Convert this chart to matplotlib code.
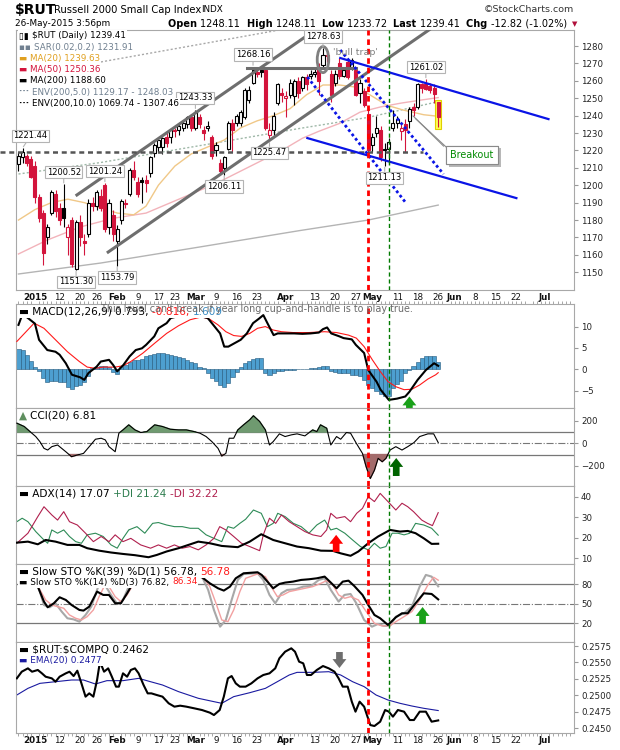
import matplotlib
matplotlib.use('Agg')
import numpy as np
import matplotlib.pyplot as plt
from matplotlib.patches import Rectangle, Ellipse
import matplotlib.patheffects as pe

plt.rcParams['font.family'] = ['DejaVu Sans']
plt.rcParams['font.size'] = 6.2

W, H = 620, 750
RED = '#d3143c'

# ---------------- data (trading day index, 0 = 2 Jan 2015) ----------------
days = np.arange(-4, 99)
opens = [1212, 1216, 1217, 1215, 1211, 1193, 1184, 1170, 1184, 1195, 1187, 1187, 1170, 1180, 1152,
         1179, 1168, 1172, 1190, 1188, 1194, 1200, 1176, 1183, 1168, 1180, 1190, 1195, 1209, 1202,
         1203, 1203, 1207, 1218.5, 1222, 1222, 1228, 1228, 1232, 1232, 1233, 1235, 1239, 1233, 1239,
         1232, 1233, 1228, 1220, 1213, 1210, 1221, 1236, 1236, 1236, 1239, 1249, 1259, 1265, 1266,
         1266, 1229, 1232, 1247, 1253, 1250, 1252, 1251, 1260, 1256, 1262, 1263, 1264, 1266, 1269,
         1275, 1264, 1259, 1270, 1263, 1271, 1268, 1266, 1253, 1254, 1241, 1223, 1230, 1232, 1221,
         1221, 1233, 1236, 1231, 1235, 1237, 1245, 1245, 1258, 1258, 1257, 1256, 1248.11]
highs = [1219, 1221.44, 1218, 1217, 1214, 1195, 1186, 1178, 1197, 1197, 1190, 1200.52, 1178, 1182, 1180,
         1183, 1172, 1192, 1193, 1197, 1198, 1201.24, 1192, 1186, 1177, 1192, 1192, 1210, 1214, 1205,
         1205, 1206, 1217, 1224, 1227, 1228, 1230, 1233, 1233, 1236, 1237, 1240, 1241, 1243.33, 1241,
         1234, 1237, 1229, 1225, 1215, 1217, 1237, 1238, 1241, 1243, 1256, 1257, 1268.16, 1267, 1267,
         1268, 1236, 1242, 1259, 1256, 1254, 1261, 1261, 1262, 1263, 1264, 1266, 1267, 1270, 1278.63,
         1277, 1266, 1266, 1273, 1268, 1273, 1273, 1268, 1261, 1256, 1243, 1230, 1240, 1234, 1224,
         1227, 1243, 1240, 1236, 1238, 1245, 1247, 1259, 1259, 1261.02, 1259, 1258, 1248.11]
lows = [1208, 1213, 1211, 1204, 1190, 1179, 1154, 1166, 1183, 1182, 1177, 1176, 1160, 1153, 1151.30,
        1165, 1160, 1170, 1185, 1186, 1185, 1173, 1172, 1168, 1153.79, 1178, 1187, 1194, 1203, 1193,
        1190, 1196, 1205, 1216, 1219, 1218, 1222, 1224, 1228, 1229, 1231, 1233, 1231, 1232, 1233,
        1226, 1231, 1215, 1217, 1207, 1206.11, 1220, 1219, 1234, 1234, 1238, 1247, 1258, 1262, 1262,
        1232, 1225.47, 1228, 1246, 1248, 1239, 1250, 1246, 1250, 1254, 1255, 1261, 1262, 1252, 1267,
        1271, 1248, 1257, 1261, 1262, 1261, 1266, 1251, 1247, 1245, 1219, 1219, 1228, 1214, 1211.13,
        1212, 1231, 1233, 1226, 1219, 1233, 1240, 1244, 1253, 1255, 1253, 1247, 1233.72]
closes = [1217, 1219, 1213, 1205, 1193, 1181, 1161, 1176, 1196, 1185, 1180, 1181, 1176, 1155, 1179,
          1170, 1167, 1190, 1188, 1196, 1187, 1175, 1190, 1172, 1175, 1191, 1189, 1209, 1205, 1195,
          1202, 1201, 1216, 1223, 1226, 1227, 1224, 1232, 1231, 1234, 1236, 1239, 1233, 1242, 1235,
          1230, 1234, 1217, 1223, 1208, 1216, 1236, 1232, 1240, 1242, 1255, 1255, 1266, 1264, 1265,
          1233, 1232, 1240, 1258, 1252, 1251.5, 1259, 1260, 1253, 1262, 1258, 1264, 1265, 1260, 1275,
          1274, 1252, 1264, 1263, 1266, 1262, 1272, 1252, 1259, 1246, 1220, 1228, 1233, 1216, 1220,
          1225, 1236, 1238, 1233, 1232, 1244, 1243, 1258, 1256, 1255.5, 1255, 1252.23, 1239.41]

ma20_x = [-4, 0, 4, 8, 12, 16, 20, 24, 27, 30, 34, 38, 42, 46, 50, 54, 58, 62, 66, 70, 74, 78,
          81.5, 85.5, 89.5, 94.5, 98]
ma20_y = [1180, 1186, 1190, 1192, 1190, 1187, 1184, 1183, 1188, 1200, 1211, 1218, 1222, 1226, 1233,
          1237, 1240, 1244, 1252, 1257.6, 1257.6, 1256.4, 1251.8, 1246, 1243.2, 1240.5, 1239.63]
ma50_x = [-4, 3, 11, 19, 27, 36, 44, 52, 60, 65, 69, 74, 79, 84, 89, 94, 98]
ma50_y = [1160.5, 1168.5, 1176, 1181, 1184, 1193, 1201, 1210.5, 1220, 1227, 1231, 1235.5, 1242, 1245,
          1247.2, 1249, 1250.36]
ma200_x = [-4, 16, 40, 64.5, 81, 98]
ma200_y = [1149, 1155.3, 1164.5, 1174, 1180, 1188.6]

macd_x = [-4, -3, 0, 1, 3, 5, 6, 7.5, 9, 11, 12, 13, 15, 16, 18, 19, 20, 21.5, 23, 24.5, 26, 27, 29,
          30, 32, 33, 35, 38, 40, 42, 43, 45, 46, 47, 48.5, 50, 51.5, 53, 54.5, 55.5, 56.5, 58, 59,
          61, 63, 65, 67, 69, 70, 71, 72, 74, 75, 77, 78, 80, 81, 83, 84, 86, 88, 90, 91, 93, 95, 97, 98]
macd_y = [10.4, 13.0, 10.7, 6.9, 4.5, 4.1, 3.4, 1.4, -1.3, -1.9, -2.5, -0.9, 0.6, 1.8, 2.2, 1.0, -0.5,
          1.0, 3.0, 4.5, 4.9, 5.7, 7.7, 9.6, 10.8, 12.0, 12.5, 13.2, 12.5, 12.0, 10.8, 8.4, 5.3, 5.3,
          6.1, 6.9, 8.4, 10.8, 11.9, 12.7, 10.8, 8.0, 8.4, 8.4, 8.4, 8.3, 8.4, 8.6, 9.4, 9.8, 8.4, 7.7,
          7.3, 7.0, 5.7, 3.8, -0.2, -2.9, -4.8, -7.2, -6.9, -6.4, -5.3, -2.5, -0.2, 1.4, 0.793]
sig_x = [-4.4, -0.2, 2.2, 5.0, 7.9, 10.8, 12.7, 14.7, 16.6, 19.5, 21.4, 23.3, 26.2, 29.1, 32.0, 34.9,
         37.7, 40.6, 42.5, 44.5, 46.4, 48.3, 50.2, 52.2, 54.1, 56.0, 57.9, 59.9, 62.7, 66.6, 70.4,
         73.3, 76.2, 78.1, 80.0, 82.0, 83.9, 85.8, 87.7, 89.7, 91.6, 93.5, 95.5, 97.4, 98]
sig_y = [6.5, 10.8, 9.6, 6.9, 4.1, 1.8, 0.5, 0.2, 0.5, 0.5, 0.8, 1.8, 3.75, 6.1, 8.4, 10.2, 11.6, 12.3,
         11.7, 10.4, 8.8, 7.9, 7.7, 8.4, 9.6, 10.0, 9.2, 8.8, 8.6, 8.6, 8.8, 8.6, 8.0, 7.3, 5.3, 2.2,
         -0.5, -2.9, -4.1, -4.8, -4.7, -3.7, -2.3, -1.3, -0.816]
hist = [4.7, 4.4, 3.4, 2.0, 0.6, -0.5, -2.1, -3.0, -2.7, -2.8, -2.9, -3.0, -4.2, -4.6, -4.0, -3.6,
        -3.0, -1.5, 0.4, 0.6, 0.7, 0.8, 0.6, -0.6, -1.1, 0.6, 0.9, 1.8, 2.2, 2.2, 2.4, 3.0, 3.3, 3.6,
        3.7, 3.7, 3.5, 3.4, 3.2, 2.9, 2.6, 2.2, 1.8, 1.4, 0.6, 0.3, -0.9, -2.0, -2.7, -3.8, -4.1,
        -3.2, -1.9, -0.6, 0.5, 1.4, 2.0, 2.5, 2.6, 2.6, -0.9, -1.3, -1.0, -0.5, -0.4, -0.3, -0.2,
        -0.1, 0.0, 0.1, 0.1, 0.2, 0.3, 0.6, 0.7, 0.8, -0.4, -0.6, -0.8, -0.9, -1.0, -1.3, -1.4,
        -1.7, -2.5, -3.6, -4.5, -5.2, -5.8, -6.2, -6.4, -4.5, -3.4, -2.7, -1.0, -0.3, 0.8, 1.8,
        2.6, 3.0, 3.1, 3.0, 1.609]

cci_x = [-4.4, -2.6, -1.2, 0.2, 1.2, 2.2, 3.1, 4.1, 5.5, 7.5, 8.9, 10.3, 11.8, 13.2, 14.7, 16.1,
         17.1, 18.0, 19.5, 20.4, 21.4, 22.8, 24.3, 25.7, 27.2, 29.1, 31.0, 32.9, 34.9, 36.8, 38.7,
         40.1, 41.6, 43.0, 44.5, 45.4, 46.4, 47.2, 48.3, 49.3, 50.7, 52.2, 53.1, 54.6, 56.0, 57.0,
         57.9, 59.4, 60.8, 62.3, 63.7, 65.6, 67.5, 68.5, 69.4, 70.9, 71.9, 73.3, 74.3, 75.7, 76.7,
         78.1, 79.6, 80.5, 81.5, 82.5, 83.4, 84.4, 85.3, 86.3, 87.7, 89.2, 90.6, 92.1, 93.5, 95.5,
         96.9, 98]
cci_y = [179, 149, 104, 60, 15, -45, -60, -30, -15, -75, -119, -104, -90, -30, 36, 45, 30, -30, -75,
         90, 119, 164, 119, 96, 104, 164, 149, 125, 119, 119, 104, 90, 60, 15, -45, -113, -90, 45,
         45, 119, 164, 209, 245, 194, 119, -15, 15, 84, 60, 75, 84, 66, 119, 104, 164, 134, -15, 60,
         36, 96, 90, 0, -90, -209, -313, -239, -134, -164, -134, -60, -30, -60, -30, 6, 60, 84, 84,
         6.81]

adx_x = [-4.4, -1.7, 0.7, 2.6, 5.0, 7.9, 10.8, 12.7, 15.6, 18.5, 21.4, 24.3, 27.6, 29.6, 32.0, 34.9,
         37.3, 39.7, 42.5, 45.4, 49.3, 52.2, 55.0, 57.9, 60.8, 63.7, 66.6, 69.5, 72.4, 74.3, 76.7,
         78.6, 81.0, 83.4, 86.3, 88.7, 90.6, 92.5, 94.5, 96.4, 98]
adx_y = [17.6, 18.1, 16.8, 18.9, 18.1, 16.5, 16.5, 14.9, 13.7, 12.8, 12.1, 11.5, 10.5, 11.6, 13.3,
         14.9, 16.5, 18.1, 17.3, 16.0, 15.4, 18.1, 21.7, 18.9, 17.3, 15.7, 14.9, 13.7, 13.6, 12.4,
         11.2, 13.3, 17.3, 20.6, 23.8, 23.0, 23.3, 22.2, 19.7, 17.0, 17.07]
pdi_x = [-4.4, -3.1, -1.7, 0.2, 2.2, 3.1, 4.1, 5.5, 7.0, 8.4, 9.9, 11.3, 12.7, 14.7, 16.6, 18.5, 20.0,
         21.4, 22.8, 24.8, 26.7, 28.6, 30.0, 32.0, 33.9, 35.8, 37.7, 39.7, 41.6, 43.5, 45.4, 46.9,
         48.3, 49.8, 51.2, 53.1, 55.0, 56.5, 57.9, 59.0, 60.8, 62.8, 64.7, 66.6, 68.5, 70.4, 71.9,
         73.3, 75.3, 77.2, 79.1, 81.0, 82.5, 83.9, 85.3, 86.8, 88.2, 89.7, 91.1, 92.5, 94.5, 96.4, 98]
pdi_y = [27.8, 29.5, 27.8, 23.0, 18.9, 17.3, 23.8, 22.2, 23.8, 20.6, 18.1, 17.3, 21.4, 22.2, 20.6,
         16.5, 14.9, 19.7, 23.8, 25.4, 22.2, 27.0, 27.4, 26.2, 25.4, 25.4, 24.6, 24.6, 21.4, 19.7,
         18.1, 25.4, 24.6, 27.0, 29.0, 33.5, 31.9, 25.4, 27.0, 31.9, 30.3, 27.0, 25.4, 22.2, 26.2,
         28.6, 23.8, 24.6, 22.2, 18.9, 15.7, 14.1, 17.3, 14.9, 15.7, 22.2, 22.2, 21.4, 22.2, 27.0,
         26.2, 24.6, 21.24]
mdi_x = [-4.4, -1.7, 0.7, 2.2, 4.1, 5.5, 7.0, 8.4, 10.3, 12.3, 14.2, 16.1, 18.0, 19.5, 21.4, 23.3,
         25.7, 28.1, 30.0, 32.0, 33.9, 35.8, 37.7, 39.7, 41.6, 43.5, 44.9, 46.4, 48.3, 50.2, 52.2,
         54.6, 55.5, 57.0, 58.5, 59.9, 61.8, 63.7, 65.6, 67.5, 69.5, 70.9, 71.9, 73.3, 75.3, 76.7,
         78.2, 79.6, 81.0, 82.5, 83.9, 85.8, 87.7, 89.2, 90.6, 92.0, 94.0, 95.4, 96.6, 98]
mdi_y = [17.3, 22.2, 30.3, 35.1, 31.1, 28.6, 32.7, 27.8, 26.2, 22.2, 18.1, 20.6, 18.1, 21.4, 18.1,
         19.7, 16.5, 14.9, 16.5, 14.9, 16.5, 14.9, 15.7, 14.1, 16.5, 19.7, 25.4, 23.8, 20.6, 17.3,
         15.7, 13.7, 21.4, 29.5, 27.0, 31.1, 27.8, 25.4, 23.0, 21.4, 20.6, 23.8, 31.9, 29.5, 30.3,
         27.8, 31.9, 34.3, 40.0, 37.6, 41.6, 37.6, 33.5, 36.8, 35.1, 32.7, 28.6, 27.0, 25.9, 32.22]

k39_x = [-0.3, 0.7, 2.2, 3.1, 4.6, 6.0, 7.5, 8.9, 10.8, 11.8, 13.2, 15.1, 16.6, 18.0, 19.5, 20.9,
         22.4, 24.3, 27, 32, 37, 40.6, 42.5, 44.5, 45.9, 47.4, 48.8, 50.7, 54.1, 55.1, 56.5, 57.9,
         59.4, 60.8, 62.7, 64.7, 66.6, 68.5, 70.4, 71.9, 73.3, 74.8, 76.2, 77.6, 79.6, 81.0, 82.5,
         83.9, 85.8, 87.7, 89.2, 90.6, 92.5, 94.5, 96.4, 98]
k39_y = [88, 76.4, 53.3, 44.6, 50.8, 60.0, 55.9, 48.2, 40.5, 39.5, 45.6, 68.7, 63.6, 63.6, 50.8,
         50.8, 66.1, 86.7, 95, 97, 95, 90.8, 81.5, 73.8, 70.3, 76.4, 89.2, 96.9, 98.5, 94.4, 84.1,
         73.8, 80.5, 82.6, 84.1, 86.7, 87.7, 89.2, 91.8, 82.6, 73.8, 84.1, 85.6, 77.4, 63.6, 48.2,
         32.8, 27.7, 17.4, 29.2, 35.4, 35.4, 50.8, 66.1, 65.1, 56.78]
k14_x = [-0.3, 0.7, 2.2, 3.6, 5.0, 6.5, 7.9, 9.4, 10.8, 12.3, 13.7, 15.1, 16.1, 17.0, 18.5, 20.0,
         21.4, 22.8, 23.8, 27, 32, 37, 40.6, 42.1, 43.5, 45.0, 46.4, 47.8, 49.3, 50.7, 54.1, 55.5,
         57.0, 58.4, 59.9, 61.3, 63.3, 65.2, 67.1, 69.0, 70.4, 71.9, 73.8, 75.2, 76.7, 78.1, 80.0,
         81.9, 83.4, 84.8, 86.3, 87.7, 89.7, 91.6, 93.5, 95.0, 96.4, 98]
k14_y = [90, 79, 48, 44.6, 50.8, 38, 27.7, 26, 22.5, 32.8, 45.6, 71.3, 89, 79, 63.6, 49.7, 55.9,
         76.4, 87.7, 97, 98, 96, 91.8, 71.3, 40.5, 14.8, 25.1, 55.9, 86.7, 95.9, 96.9, 86.7, 63.6,
         50.8, 66.1, 71.3, 72.3, 76.4, 77.4, 86.7, 89.2, 71.3, 53.3, 63.6, 65.1, 50.8, 25.1, 14.8,
         19.0, 15.9, 16.4, 30.2, 35.4, 45.6, 76.4, 94.4, 91.8, 76.82]
d3_x = [-0.3, 0.7, 2.6, 4.1, 5.5, 7.0, 8.4, 9.9, 11.3, 12.7, 14.2, 15.6, 16.8, 18.0, 19.5, 20.9,
        22.4, 23.8, 24.8, 28, 33, 38, 41.1, 42.5, 44.0, 45.4, 46.9, 48.3, 49.8, 51.2, 54.1, 56.0,
        57.4, 58.9, 60.3, 61.8, 63.7, 65.6, 67.5, 69.5, 70.9, 72.4, 73.8, 75.3, 76.7, 78.6, 80.5,
        82.5, 84.4, 86.3, 87.7, 89.7, 91.6, 93.5, 95.5, 96.9, 98]
d3_y = [88, 77.4, 55.9, 48.2, 45.6, 43.1, 32.8, 27.7, 25.1, 30.2, 40.5, 61.0, 76.4, 76.4, 61.0, 53.3,
        63.6, 79, 86.7, 95, 97, 96, 89.2, 76.4, 50.8, 25.1, 22.5, 40.5, 68.7, 89.2, 95.9, 91.8, 76.4,
        61.0, 63.6, 68.7, 71.3, 73.8, 76.4, 81.5, 85.6, 79, 63.6, 58.5, 61.0, 55.9, 38.0, 20, 15.9,
        16.4, 22.5, 30.2, 38, 55.9, 79, 90.8, 86.34]

rc_x = [-4.4, -3.2, -1.7, -0.7, 0.7, 1.7, 2.6, 4.1, 5.0, 6.0, 7.5, 8.4, 9.4, 10.3, 11.3, 12.3, 13.2,
        14.2, 15.1, 15.8, 16.8, 17.8, 18.7, 19.7, 20.4, 21.4, 22.4, 23.3, 24.3, 25.2, 26.4, 27.4,
        28.3, 29.6, 31.0, 32.5, 33.9, 35.3, 36.8, 38.7, 40.6, 42.5, 43.5, 44.9, 45.9, 46.9, 47.8,
        48.8, 49.8, 51.2, 52.6, 54.1, 55.5, 57.0, 58.4, 59.4, 60.8, 62.3, 63.2, 64.2, 65.2, 66.1,
        67.1, 68.5, 70.0, 71.4, 72.8, 73.8, 74.8, 76.0, 77.0, 77.9, 78.9, 80.0, 81.5, 82.5, 83.9,
        85.1, 86.0, 87.0, 88.2, 89.7, 91.1, 92.1, 93.5, 95.0, 96.4, 98]
rc_y = [0.25259, 0.25360, 0.25411, 0.25360, 0.25386, 0.25335, 0.25284, 0.25259, 0.25208, 0.25284,
        0.25335, 0.25360, 0.25294, 0.25375, 0.25183, 0.24981, 0.25031, 0.24981, 0.25234, 0.25512,
        0.25360, 0.25411, 0.25284, 0.25133, 0.25133, 0.25335, 0.25284, 0.25386, 0.25411, 0.25335,
        0.25158, 0.25031, 0.25031, 0.25006, 0.24981, 0.24880, 0.24829, 0.24844, 0.24829, 0.24804,
        0.24778, 0.24738, 0.24702, 0.24778, 0.24981, 0.25259, 0.25294, 0.25183, 0.25133, 0.25133,
        0.25183, 0.25259, 0.25310, 0.25335, 0.25411, 0.25563, 0.25664, 0.25715, 0.25664, 0.25512,
        0.25487, 0.25310, 0.25310, 0.25386, 0.25446, 0.25411, 0.25360, 0.25259, 0.25133, 0.25133,
        0.24905, 0.24753, 0.24905, 0.24829, 0.24550, 0.24535, 0.24601, 0.24778, 0.24753, 0.24677,
        0.24778, 0.24753, 0.24626, 0.24626, 0.24753, 0.24753, 0.24601, 0.2462]
ema_x = [-4.4, -1.7, 1.2, 5.0, 8.9, 11.8, 14.7, 17.5, 21.4, 25.2, 28.1, 31.0, 34.9, 39.7, 43.5, 45.4,
         48.3, 52.2, 56.0, 58.9, 61.8, 63.7, 67.5, 71.4, 74.3, 77.2, 80.0, 82.9, 85.8, 88.7, 91.6,
         94.5, 98]
ema_y = [0.25006, 0.25107, 0.25183, 0.25208, 0.25234, 0.25234, 0.25173, 0.25224, 0.25224, 0.25259,
         0.25208, 0.25158, 0.25057, 0.24956, 0.24905, 0.24880, 0.24981, 0.25041, 0.25107, 0.25208,
         0.25310, 0.25350, 0.25350, 0.25360, 0.25310, 0.25208, 0.25133, 0.25006, 0.24930, 0.24880,
         0.24839, 0.24804, 0.2477]

date_ticks = [0, 6, 11, 15, 20, 25, 30, 34, 39, 44, 49, 54, 61, 68, 73, 78, 82, 88, 93, 98, 102, 107,
              112, 117, 124]
date_labels = ['2015', '12', '20', '26', 'Feb', '9', '17', '23', 'Mar', '9', '16', '23', 'Apr', '13',
               '20', '27', 'May', '11', '18', '26', 'Jun', '8', '15', '22', 'Jul']
high_days = [-3, 7, 17, 39, 53, 70, 95]
low_days = [10, 20, 46, 57, 85]

# ---------------- figure ----------------
fig = plt.figure(figsize=(W / 100, H / 100), dpi=100)
renderer = fig.canvas.get_renderer()


def panel(top, bottom):
    a = fig.add_axes([16 / W, 1 - bottom / H, 558 / W, (bottom - top) / H])
    a.set_xlim(-4.6, 131)
    for s in a.spines.values():
        s.set_color('#a8a8a8')
        s.set_linewidth(0.8)
    a.yaxis.tick_right()
    a.tick_params(axis='y', labelsize=6.2, length=3, color='#999', labelcolor='#222', pad=2)
    a.tick_params(axis='x', length=0, labelbottom=False)
    a.axvline(81, color='#ff0000', lw=2, ls=(0, (2, 1.4)), zorder=6)
    a.axvline(86, color='#007a00', lw=1, ls=(0, (3, 2)), zorder=6)
    return a


def ftext(x, y, s, **kw):
    return fig.text(x / W, 1 - y / H, s, **kw)


def chain(x, y, parts, size=6.2, bg=True):
    box = dict(boxstyle='square,pad=0.12', fc='white', ec='none') if bg else None
    for s, c, w in parts:
        t = ftext(x, y, s, color=c, fontsize=size, weight=w, ha='left', va='center', bbox=box, zorder=8)
        x = t.get_window_extent(renderer).x1
    return x


def date_axis(a):
    a.set_xticks(date_ticks)
    a.set_xticklabels(date_labels)
    a.tick_params(axis='x', labelbottom=True, labelsize=6.3, pad=2, length=0, labelcolor='#111')
    for lab in a.get_xticklabels():
        if not lab.get_text().isdigit() or lab.get_text() == '2015':
            lab.set_fontweight('bold')


def up_arrow(a, x, y0, y1, color):
    a.annotate('', xy=(x, y1), xytext=(x, y0), annotation_clip=False, zorder=9,
               arrowprops=dict(arrowstyle='simple,head_length=0.8,head_width=1.25,tail_width=0.6',
                               fc=color, ec='none', mutation_scale=8, shrinkA=0, shrinkB=0))


LBL = 7.6   # panel legend size

# ---- title block ----
ftext(15, 10, '$RUT', fontsize=10, weight='bold', va='center')
ftext(54, 10, 'Russell 2000 Small Cap Index', fontsize=7.2, va='center')
ftext(201, 10, 'INDX', fontsize=6.3, va='center')
ftext(574, 10, '\u00a9StockCharts.com', fontsize=6.8, va='center', ha='right', color='#333')
ftext(15, 24, '26-May-2015 3:56pm', fontsize=6.4, va='center')
xe = chain(168, 24, [('Open ', 'black', 'bold'), ('1248.11  ', 'black', 'normal'),
                     ('High ', 'black', 'bold'), ('1248.11  ', 'black', 'normal'),
                     ('Low ', 'black', 'bold'), ('1233.72  ', 'black', 'normal'),
                     ('Last ', 'black', 'bold'), ('1239.41  ', 'black', 'normal'),
                     ('Chg ', 'black', 'bold'), ('-12.82 (-1.02%) ', 'black', 'normal')],
           size=7.0, bg=False)
ftext(xe + 2, 24, '\u25bc', fontsize=5, va='center', color='#b0103a')

# ---- main price panel ----
ax = panel(30, 290)
ax.set_ylim(1139.8, 1289.2)
ax.set_yticks(range(1150, 1281, 10))
date_axis(ax)

ma200 = np.array(ma200_y)
ax.plot(ma200_x, ma200, color='#b4b4b4', lw=1, zorder=2)
ax.plot(ma200_x, ma200 * 1.05, color='#9fb8a8', lw=1, ls=(0, (1.5, 1.5)), zorder=2)
ax.plot(ma200_x, ma200 * 0.95, color='#9fb8a8', lw=1, ls=(0, (1.5, 1.5)), zorder=2)
ax.plot(ma200_x, ma200 * 1.10, color='#a8a8a8', lw=1, ls=(0, (1.5, 1.5)), zorder=2)
ax.plot(ma50_x, ma50_y, color='#f2b3ba', lw=1, zorder=2)
ax.plot(ma20_x, ma20_y, color='#f0c888', lw=1, zorder=2)

# yellow highlight behind last bar
ax.add_patch(Rectangle((97.2, 1232.3), 1.6, 16.5, fc='#ffff55', ec='#e0d000', lw=0.8, zorder=2.5))

prev = opens[0]
for d, o, h, l, c in zip(days, opens, highs, lows, closes):
    col = RED if c < prev else 'black'
    ax.vlines(d, l, h, color=col, lw=0.8, zorder=3)
    ax.add_patch(Rectangle((d - 0.37, min(o, c)), 0.74, max(abs(c - o), 0.35),
                           fc='white' if c >= o else col, ec=col, lw=0.8, zorder=4))
    prev = c

# trend lines
grey = '#6e6e6e'
ax.plot([10.2, 75], [1194.4, 1300.5], color=grey, lw=2.2, zorder=5)
ax.plot([17.8, 100], [1161.6, 1296.2], color=grey, lw=2.2, zorder=5)
ax.plot([51.6, 78.1], [1267.4, 1267.4], color=grey, lw=2.2, zorder=5)
ax.plot([-8.5, 94.2], [1219, 1219], color='#555', lw=1.8, ls=(0, (2, 1.5)), zorder=5, clip_on=False)
blue = '#0a14e6'
ax.plot([74.2, 124.8], [1273.1, 1238.0], color=blue, lw=1.6, zorder=5)
ax.plot([66.2, 117.0], [1227.1, 1192.6], color=blue, lw=1.6, zorder=5)
ax.plot([66.2, 90.0], [1262.2, 1190.3], color=blue, lw=2, ls=(0, (1, 1)), zorder=5)
ax.plot([74.2, 99.3], [1277.7, 1206.4], color=blue, lw=2, ls=(0, (1, 1)), zorder=5)
ax.add_patch(Ellipse((70, 1272.2), 2.8, 15, fill=False, ec='#808080', lw=2, zorder=5))
ax.text(72.5, 1276.5, "'bull trap'", color='#808080', fontsize=6.8, va='center', zorder=7)

# breakout call-out
ax.plot([91.9, 99.3], [1239.8, 1222.5], color='#8a8a8a', lw=0.8, zorder=6)
ax.plot([92.5, 100.0], [1238.3, 1221.8], color='#8a8a8a', lw=0.8, zorder=6)
bt = ax.text(106.2, 1217.4, 'Breakout', color='#008a00', fontsize=6.9, ha='center', va='center', zorder=7,
             bbox=dict(boxstyle='square,pad=0.45', fc='white', ec='#8a8a8a', lw=0.8))
bt.get_bbox_patch().set_path_effects([pe.withSimplePatchShadow(offset=(2, -2), shadow_rgbFace='#b8b8b8',
                                                               alpha=1), pe.Normal()])

# price flags
flag = dict(boxstyle='square,pad=0.2', fc='white', ec='#b4b4b4', lw=0.8)
for d in high_days:
    v = highs[list(days).index(d)]
    ax.annotate(f'{v:.2f}', xy=(d, v), xytext=(8 if d < 0 else 0, 12), textcoords='offset pixels',
                ha='center', va='center', fontsize=6, bbox=flag, zorder=7,
                arrowprops=dict(arrowstyle='-', color='#b4b4b4', lw=0.8, shrinkA=0, shrinkB=1))
for d in low_days:
    v = lows[list(days).index(d)]
    ax.annotate(f'{v:.2f}', xy=(d, v), xytext=(0, -12), textcoords='offset pixels',
                ha='center', va='center', fontsize=6, bbox=flag, zorder=7,
                arrowprops=dict(arrowstyle='-', color='#b4b4b4', lw=0.8, shrinkA=0, shrinkB=1))

legend_rows = [('\u25af\u25ae ', '$RUT (Daily) 1239.41', 'black'),
               ('\u25aa\u25aa ', 'SAR(0.02,0.2) 1231.91', '#708090'),
               ('\u25ac ', 'MA(20) 1239.63', '#e0a020'),
               ('\u25ac ', 'MA(50) 1250.36', RED),
               ('\u25ac ', 'MA(200) 1188.60', 'black'),
               ('\u00b7\u00b7\u00b7 ', 'ENV(200,5.0) 1129.17 - 1248.03', '#708090'),
               ('\u00b7\u00b7\u00b7 ', 'ENV(200,10.0) 1069.74 - 1307.46', 'black')]
for k, (icon, txt, col) in enumerate(legend_rows):
    chain(19, 36 + 11.2 * k, [(icon, col, 'bold'), (txt, col, 'normal')], size=6.3)

# ---- MACD ----
am = panel(304, 408)
am.set_ylim(-9.1, 15.3)
am.set_yticks([-5, 0, 5, 10])
am.set_xticks(np.arange(-4, 131), minor=True)
am.tick_params(axis='x', which='minor', top=True, bottom=False, length=2, color='#999', direction='out')
am.bar(days, hist, width=1.0, color='#4d9fd0', edgecolor='#23587c', linewidth=0.4, zorder=2)
am.plot(sig_x, sig_y, color='#ff1a1a', lw=0.8, zorder=3)
am.plot(macd_x, macd_y, color='black', lw=1.5, zorder=4)
up_arrow(am, 91, -10.0, -6.4, '#19a019')
chain(19, 312, [('\u25ac MACD(12,26,9) ', 'black', 'normal'), ('0.793, ', 'black', 'normal'),
                ('-0.816, ', '#ff1a1a', 'normal'), ('1.609', '#3c8dc4', 'normal')], size=LBL)
ftext(101, 309, "This level can't break if year long cup-and-handle is to play true.",
      color='#6a6a6a', fontsize=6.9, va='center', zorder=9)

# ---- CCI ----
ac = panel(408, 486)
ac.set_ylim(-380, 314)
ac.set_yticks([-200, 0, 200])
ac.axhline(100, color='#777', lw=0.9, zorder=1)
ac.axhline(-100, color='#777', lw=0.9, zorder=1)
ac.axhline(0, color='#777', lw=0.8, ls='-.', zorder=1)
cx, cy = np.array(cci_x), np.array(cci_y, dtype=float)
ac.fill_between(cx, cy, 100, where=cy > 100, interpolate=True, color='#6f9a70', zorder=2)
ac.fill_between(cx, cy, -100, where=cy < -100, interpolate=True, color='#a36b6b', zorder=2)
ac.plot(cx, cy, color='black', lw=0.8, zorder=3)
up_arrow(ac, 87.8, -291, -131, '#006400')
chain(19, 416, [('\u25b2 ', '#5f8f5f', 'normal'), ('CCI(20) 6.81', 'black', 'normal')], size=LBL)

# ---- ADX ----
aa = panel(486, 564)
aa.set_ylim(7.2, 45.2)
aa.set_yticks([10, 20, 30, 40])
aa.plot(pdi_x, pdi_y, color='#2e8b57', lw=0.8, zorder=2)
aa.plot(mdi_x, mdi_y, color='#b0204e', lw=0.8, zorder=2)
aa.plot(adx_x, adx_y, color='black', lw=1.5, zorder=3)
up_arrow(aa, 73.2, 13.1, 21.4, '#ff0000')
chain(19, 494, [('\u25ac ADX(14) 17.07 ', 'black', 'normal'), ('+DI 21.24 ', '#2e7d4f', 'normal'),
                ('-DI 32.22', '#b0204e', 'normal')], size=LBL)

# ---- Slow stochastics ----
ast = panel(564, 642)
ast.set_ylim(-8.8, 111.2)
ast.set_yticks([20, 50, 80])
ast.axhline(80, color='#777', lw=0.9, zorder=1)
ast.axhline(20, color='#777', lw=0.9, zorder=1)
ast.axhline(50, color='#777', lw=0.8, ls='-.', zorder=1)
ast.plot(k14_x, k14_y, color='#a8a8a8', lw=1.5, zorder=2)
ast.plot(d3_x, d3_y, color='#f2a0a0', lw=1, zorder=2)
ast.plot(k39_x, k39_y, color='black', lw=1.5, zorder=3)
up_arrow(ast, 94.2, 19, 45, '#19a019')
chain(19, 572, [('\u25ac Slow STO %K(39) %D(1) 56.78, ', 'black', 'normal'), ('56.78', '#ff1a1a', 'normal')],
      size=LBL)
chain(19, 582, [('\u25ac Slow STO %K(14) %D(3) 76.82, ', 'black', 'normal'), ('86.34', '#ff1a1a', 'normal')],
      size=6.4)

# ---- RUT:COMPQ ----
ar = panel(642, 733)
ar.set_ylim(0.24429, 0.25811)
rt = [0.2450, 0.2475, 0.2500, 0.2525, 0.2550, 0.2575]
ar.set_yticks(rt)
ar.set_yticklabels([f'{v:.4f}' for v in rt])
ar.set_xticks(np.arange(-4, 131), minor=True)
ar.tick_params(axis='x', which='minor', bottom=True, length=2, color='#999', direction='out')
date_axis(ar)
ar.plot(ema_x, ema_y, color='#1a1aa0', lw=0.8, zorder=2)
ar.plot(rc_x, rc_y, color='black', lw=1.5, zorder=3)
up_arrow(ar, 74, 0.25659, 0.25416, '#6e6e6e')
chain(19, 649, [('\u25ac \\$RUT:\\$COMPQ 0.2462', 'black', 'normal')], size=LBL)
chain(19, 660, [('\u25ac EMA(20) 0.2477', '#1a1aa0', 'normal')], size=6.4)

fig.savefig('out.png', dpi=100)
